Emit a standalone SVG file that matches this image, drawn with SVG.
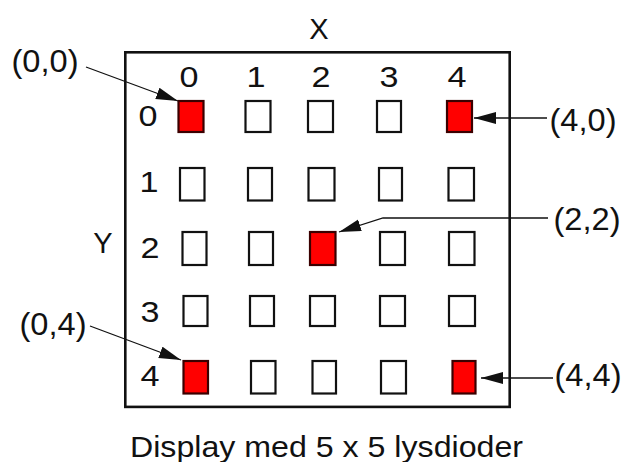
<svg xmlns="http://www.w3.org/2000/svg" width="631" height="462" viewBox="0 0 631 462">
<style>
text{font-family:"Liberation Sans",Arial,sans-serif;fill:#111;}
.lbl{font-size:29px;text-anchor:middle;}
.co{font-size:31px;text-anchor:middle;}
.off{fill:#fff;stroke:#111;stroke-width:2.2;}
.on{fill:#ff0000;stroke:#3a0000;stroke-width:2.2;}
.frame{fill:none;stroke:#111;stroke-width:2.6;}
.conn{fill:none;stroke:#111;stroke-width:1.3;marker-end:url(#ah);}
</style>
<defs>
<marker id="ah" markerUnits="userSpaceOnUse" markerWidth="24" markerHeight="14" refX="22" refY="6" orient="auto">
<path d="M0,0 L22,6 L0,12 z" fill="#111"/>
</marker>
</defs>
<rect class="frame" x="125.3" y="52.3" width="384.4" height="354.6"/>
<text class="lbl" x="319" y="39">X</text>
<text class="lbl" x="103" y="253">Y</text>
<g id="colLabels">
<text class="lbl" x="189" y="87" textLength="19" lengthAdjust="spacingAndGlyphs">0</text>
<text class="lbl" x="256" y="87" textLength="19" lengthAdjust="spacingAndGlyphs">1</text>
<text class="lbl" x="321" y="87" textLength="19" lengthAdjust="spacingAndGlyphs">2</text>
<text class="lbl" x="389" y="87" textLength="19" lengthAdjust="spacingAndGlyphs">3</text>
<text class="lbl" x="457" y="87" textLength="19" lengthAdjust="spacingAndGlyphs">4</text>
</g>
<g id="rowLabels">
<text class="lbl" x="148" y="126" textLength="19" lengthAdjust="spacingAndGlyphs">0</text>
<text class="lbl" x="149" y="192" textLength="19" lengthAdjust="spacingAndGlyphs">1</text>
<text class="lbl" x="150" y="258" textLength="19" lengthAdjust="spacingAndGlyphs">2</text>
<text class="lbl" x="150" y="322" textLength="19" lengthAdjust="spacingAndGlyphs">3</text>
<text class="lbl" x="150" y="386" textLength="19" lengthAdjust="spacingAndGlyphs">4</text>
</g>
<g id="leds">
<rect class="on" x="178.5" y="101" width="25" height="31"/>
<rect class="off" x="245.5" y="101" width="25" height="31"/>
<rect class="off" x="308" y="101" width="25" height="31"/>
<rect class="off" x="377" y="101" width="24" height="31"/>
<rect class="on" x="447" y="101" width="25" height="31"/>

<rect class="off" x="180" y="168" width="24.5" height="32.5"/>
<rect class="off" x="248" y="168" width="24" height="32.5"/>
<rect class="off" x="308.5" y="168" width="26" height="32.5"/>
<rect class="off" x="379" y="168" width="23" height="32.5"/>
<rect class="off" x="448.5" y="168" width="25.5" height="32.5"/>

<rect class="off" x="182.5" y="232" width="24" height="33"/>
<rect class="off" x="249" y="232" width="24" height="33"/>
<rect class="on" x="310" y="232" width="25.5" height="33"/>
<rect class="off" x="380" y="232" width="25" height="33"/>
<rect class="off" x="449" y="232" width="25.5" height="33"/>

<rect class="off" x="183.5" y="296" width="24" height="30"/>
<rect class="off" x="250" y="296" width="24" height="30"/>
<rect class="off" x="310" y="296" width="25" height="30"/>
<rect class="off" x="380" y="296" width="25" height="30"/>
<rect class="off" x="449" y="296" width="26" height="30"/>

<rect class="on" x="183.5" y="361" width="24.5" height="32.5"/>
<rect class="off" x="251" y="361" width="24.5" height="32.5"/>
<rect class="off" x="312.5" y="361" width="23.5" height="32.5"/>
<rect class="off" x="381" y="361" width="25" height="32.5"/>
<rect class="on" x="452.5" y="361" width="23" height="32.5"/>
</g>
<g id="connectors">
<path class="conn" d="M86,67 L178,101"/>
<path class="conn" d="M547,118 L474,118"/>
<path class="conn" d="M548,218 L383,218 L339,232"/>
<path class="conn" d="M90,326 L181,360"/>
<path class="conn" d="M553,378 L481,378"/>
</g>
<g id="coord00"><text class="co" x="45" y="72" textLength="67" lengthAdjust="spacingAndGlyphs">(0,0)</text></g>
<g id="coord40"><text class="co" x="583" y="131" textLength="67" lengthAdjust="spacingAndGlyphs">(4,0)</text></g>
<g id="coord22"><text class="co" x="587" y="230" textLength="67" lengthAdjust="spacingAndGlyphs">(2,2)</text></g>
<g id="coord04"><text class="co" x="53" y="335" textLength="67" lengthAdjust="spacingAndGlyphs">(0,4)</text></g>
<g id="coord44"><text class="co" x="588" y="386" textLength="67" lengthAdjust="spacingAndGlyphs">(4,4)</text></g>
<text x="326.5" y="457" style="font-size:30px;text-anchor:middle" textLength="393" lengthAdjust="spacingAndGlyphs">Display med 5 x 5 lysdioder</text>
</svg>
